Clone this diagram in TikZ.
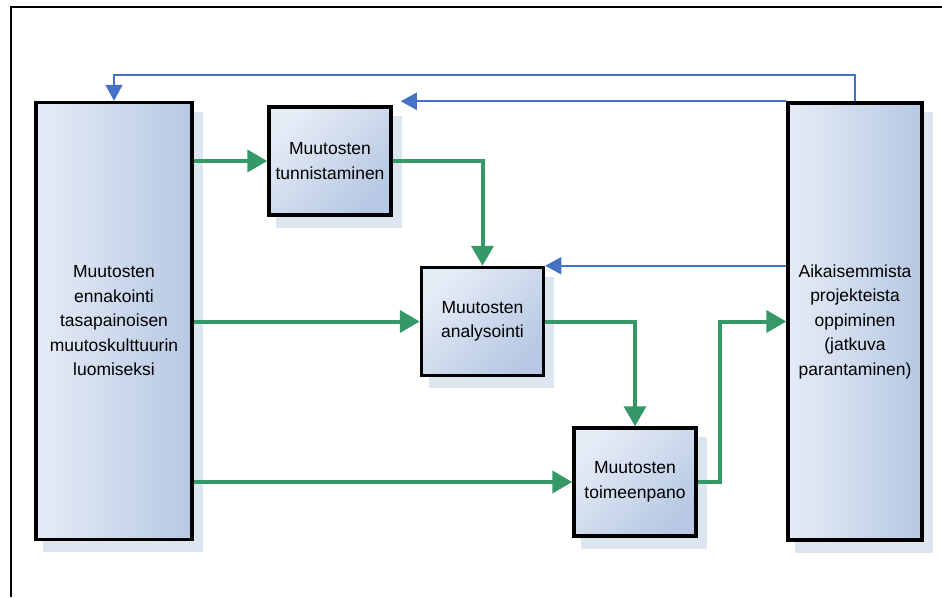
\documentclass[tikz,border=0pt]{standalone}
\usepackage{fontspec}
\setmainfont{Liberation Sans}
\usepackage{tikz}
\usetikzlibrary{arrows.meta, positioning, shadows}
\definecolor{boxlight}{RGB}{230,236,246}
\definecolor{boxdark}{RGB}{182,200,227}
\definecolor{shadowblue}{RGB}{221,229,241}
\definecolor{flowgreen}{RGB}{52,152,103}
\definecolor{backblue}{RGB}{68,114,196}

\tikzset{
  phase/.style={draw=black, line width=3.5pt, align=center, inner sep=2pt,
    font=\fontsize{17.5}{24.5}\selectfont,
    drop shadow={shadow xshift=9pt, shadow yshift=-11pt, fill=shadowblue,
      draw=shadowblue, line width=3.5pt, opacity=1}},
  smallphase/.style={phase, minimum width=122pt, minimum height=108pt,
    top color=boxlight, bottom color=boxdark, shading angle=45},
  bigphase/.style={phase, minimum height=437pt,
    left color=boxlight, right color=boxdark},
  flow/.style={draw=flowgreen, line width=4pt, -{Triangle[length=20pt,width=22pt]}},
  feedback/.style={draw=backblue, line width=2pt, -{Triangle[length=16pt,width=17pt]}}
}

\begin{document}
\begin{tikzpicture}[x=1pt, y=-1pt]
\useasboundingbox (0,0) rectangle (942,597);

% frame
\draw[line width=2pt] (11,597) -- (11,7) -- (942,7);

% long phases
\node[bigphase, minimum width=156pt] (ennakointi) at (114,321)
    {Muutosten\\ennakointi\\tasapainoisen\\muutoskulttuurin\\luomiseksi};
\node[bigphase, minimum width=134pt] (oppiminen) at (855,321.5)
    {Aikaisemmista\\projekteista\\oppiminen\\(jatkuva\\parantaminen)};

% change steps
\node[smallphase] (tunnistus) at (330,161) {Muutosten\\tunnistaminen};
\node[smallphase] (analyysi) at (482.5,321.5) {Muutosten\\analysointi};
\node[smallphase] (toimeenpano) at (635,482) {Muutosten\\toimeenpano};

% forward flow
\draw[flow] (ennakointi.east |- tunnistus.west) -- (tunnistus.west);
\draw[flow] (tunnistus.east) -| (analyysi.north);
\draw[flow] (ennakointi.east |- analyysi.west) -- (analyysi.west);
\draw[flow] (analyysi.east) -| (toimeenpano.north);
\draw[flow] (ennakointi.east |- toimeenpano.west) -- (toimeenpano.west);
\draw[flow] (toimeenpano.east) -- ++(22,0) |- (oppiminen.west);

% feedback from learning
\draw[feedback] (oppiminen.north) -- ++(0,-26) -| (ennakointi.north);
\draw[feedback] (oppiminen.north west)
    -- ([xshift=8pt]tunnistus.north east |- oppiminen.north west);
\draw[feedback] (oppiminen.west |- analyysi.north east) -- (analyysi.north east);
\end{tikzpicture}
\end{document}
